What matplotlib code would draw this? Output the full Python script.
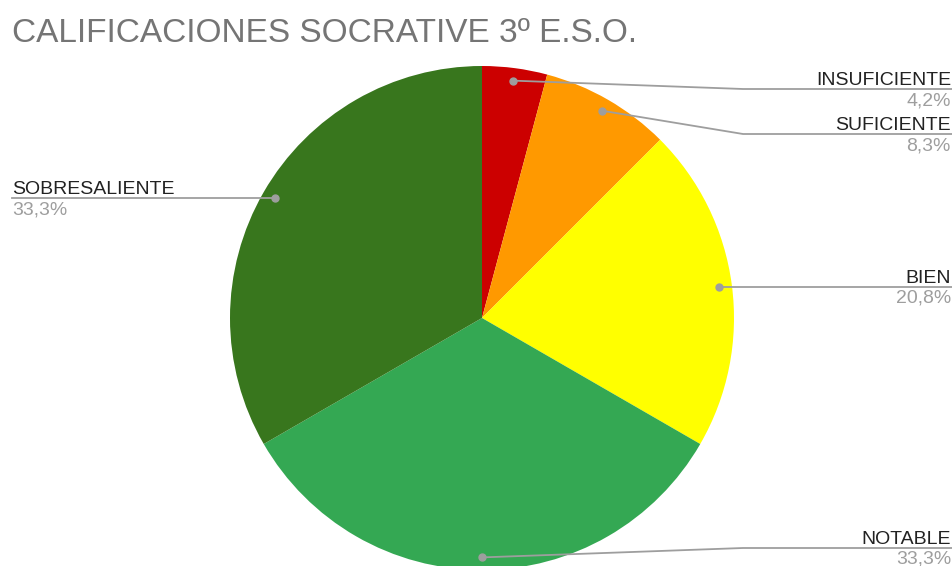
import numpy as np
import matplotlib
matplotlib.use("Agg")
import matplotlib.pyplot as plt

# ---- data ----
categories = ["INSUFICIENTE", "SUFICIENTE", "BIEN", "NOTABLE", "SOBRESALIENTE"]
counts = [1, 2, 5, 8, 8]
pct_labels = ["4,2%", "8,3%", "20,8%", "33,3%", "33,3%"]
colors = ["#cc0000", "#ff9900", "#ffff00", "#34a853", "#38761d"]
title = "CALIFICACIONES SOCRATIVE 3º E.S.O."

W, H = 953, 566
plt.rcParams['font.family'] = ['Liberation Sans', 'DejaVu Sans']

fig = plt.figure(figsize=(W / 100, H / 100), dpi=100)
ax = fig.add_axes([0, 0, 1, 1])

def Y(y_img):
    return H - y_img

cx, cy, R = 482, Y(318), 252
wedges, _ = ax.pie(counts, colors=colors, startangle=90, counterclock=False,
                   center=(cx, cy), radius=R, frame=True,
                   wedgeprops=dict(linewidth=0))
ax.set_xlim(0, W)
ax.set_ylim(0, H)
ax.set_aspect('equal')
ax.axis('off')

# label layout (style)
layout = {
    "INSUFICIENTE": dict(side="r", ly=89, elbow=743),
    "SUFICIENTE": dict(side="r", ly=134, elbow=743),
    "BIEN": dict(side="r", ly=None, elbow=None),
    "NOTABLE": dict(side="r", ly=548, elbow=743),
    "SOBRESALIENTE": dict(side="l", ly=None, elbow=None),
}

line_c = "#9e9e9e"
xr, xl = 951, 12
for w, name, pct in zip(wedges, categories, pct_labels):
    L = layout[name]
    ang = np.deg2rad((w.theta1 + w.theta2) / 2)
    rr = 0.95 * R
    dx, dy = cx + rr * np.cos(ang), cy + rr * np.sin(ang)
    ax.plot(dx, dy, 'o', ms=5, color="#9e9e9e", zorder=5)
    if L["ly"] is None:
        ly = dy
        if L["side"] == "r":
            ax.plot([dx, xr + 1], [ly, ly], color=line_c, lw=1.3, zorder=4)
        else:
            ax.plot([dx, xl], [ly, ly], color=line_c, lw=1.3, zorder=4)
    else:
        ly = Y(L["ly"])
        ax.plot([dx, L["elbow"], xr + 1], [dy, ly, ly], color=line_c, lw=1.3, zorder=4)
    if L["side"] == "r":
        x, ha = xr, 'right'
    else:
        x, ha = xl, 'left'
    ax.text(x, ly + 4, name, ha=ha, va='baseline', fontsize=14, color="#222222")
    ax.text(x, ly - 3, pct, ha=ha, va='top', fontsize=14, color="#9e9e9e")

ax.text(12, Y(42), title, ha='left', va='baseline', fontsize=24, color="#757575")

fig.savefig("out.png", dpi=100)
